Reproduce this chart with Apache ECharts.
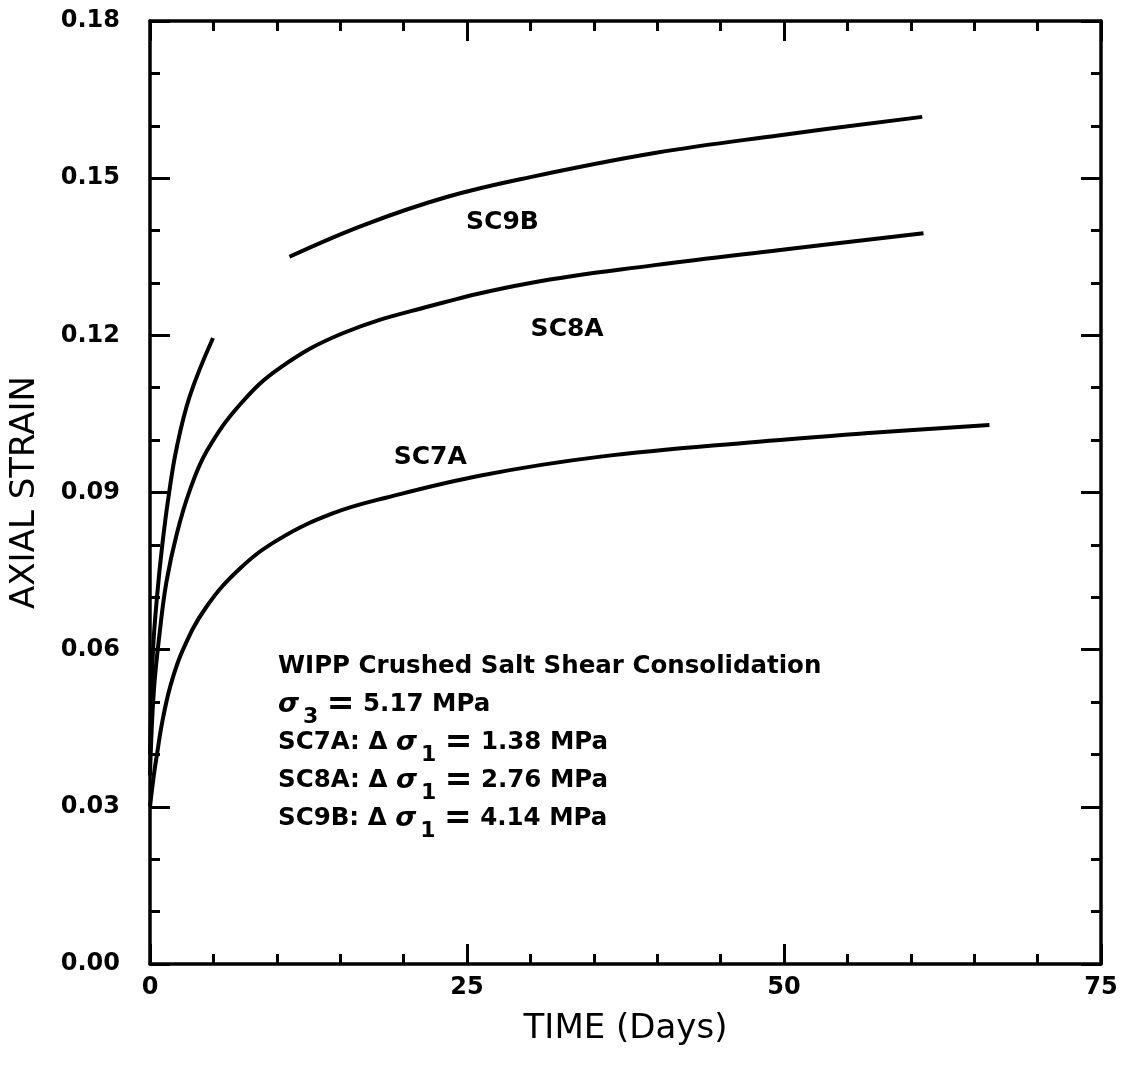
<!DOCTYPE html>
<html>
<head>
<meta charset="utf-8">
<style>
  html, body { margin: 0; padding: 0; background: #fff; }
  #chart { width: 1127px; height: 1068px; }
</style>
<script src="https://cdn.jsdelivr.net/npm/echarts@6/dist/echarts.min.js"></script>
</head>
<body>
<div id="chart"></div>
<script>
// Creep curves: [time (days), axial strain]
const sc7a = [
  [0, 0.030], [0.3, 0.036], [0.55, 0.040], [0.95, 0.046], [1.6, 0.053],
  [2.6, 0.060], [4.4, 0.068], [7.1, 0.0755], [10.25, 0.0812], [14.4, 0.086],
  [18.6, 0.089], [26.2, 0.0933], [35.4, 0.0968], [48, 0.0997], [56.4, 0.1013],
  [66.2, 0.1029]
];
const sc8a = [
  [0, 0.036], [0.3, 0.052], [0.8, 0.064], [1.3, 0.073], [2.1, 0.082],
  [3.15, 0.0905], [4.5, 0.098], [7.1, 0.1068], [10.25, 0.1138], [15.2, 0.1204],
  [21.8, 0.1254], [30, 0.130], [39.8, 0.1334], [49.7, 0.1363], [61, 0.1395]
];
// SC9B was recorded in two pieces with a gap between about day 5 and day 11
const sc9bEarly = [
  [0, 0.040], [0.1, 0.050], [0.25, 0.0605], [0.55, 0.070], [0.95, 0.0796],
  [1.45, 0.089], [2.1, 0.0985], [3.15, 0.1085], [4.97, 0.1195]
];
const sc9bLate = [
  [11.0, 0.135], [16.8, 0.141], [23.4, 0.1464], [30.0, 0.1502],
  [39.8, 0.1548], [49.7, 0.1582], [60.9, 0.1617]
];
// Curve name tags: [time, strain, name]
const curveTags = [
  [27.8, 0.1416, 'SC9B'],
  [32.9, 0.1212, 'SC8A'],
  [22.1, 0.0966, 'SC7A']
];
const xTicks = [0, 25, 50, 75];
const yTicks = [0.00, 0.03, 0.06, 0.09, 0.12, 0.15, 0.18];

const FONT = 'DejaVu Sans';
const INK = '#000';

const chart = echarts.init(document.getElementById('chart'), null, { renderer: 'canvas' });

const axisLineStyle = { show: true, onZero: false, lineStyle: { color: INK, width: 3.5 } };
const majorTick = { show: true, inside: true, length: 20, lineStyle: { color: INK, width: 3 } };
const minorTick = { show: true, splitNumber: 5, length: 10, lineStyle: { color: INK, width: 3 } };

function xAxisCfg(pos, labels) {
  return {
    type: 'value', position: pos, min: xTicks[0], max: xTicks[xTicks.length - 1], interval: 25,
    axisLine: axisLineStyle, axisTick: majorTick,
    minorTick: minorTick, splitLine: { show: false }, minorSplitLine: { show: false },
    axisLabel: labels ? {
      show: true, margin: 12, color: INK, fontFamily: FONT, fontWeight: 'bold', fontSize: 24,
      formatter: v => String(v)
    } : { show: false },
    name: labels ? 'TIME (Days)' : '',
    nameLocation: 'middle', nameGap: 48,
    nameTextStyle: { color: INK, fontFamily: FONT, fontSize: 34 }
  };
}
function yAxisCfg(pos, labels) {
  return {
    type: 'value', position: pos, min: yTicks[0], max: yTicks[yTicks.length - 1], interval: 0.03,
    axisLine: axisLineStyle, axisTick: majorTick,
    minorTick: Object.assign({}, minorTick, { splitNumber: 3 }),
    splitLine: { show: false }, minorSplitLine: { show: false },
    axisLabel: labels ? {
      show: true, margin: 30, color: INK, fontFamily: FONT, fontWeight: 'bold', fontSize: 24,
      formatter: v => v.toFixed(2)
    } : { show: false },
    name: labels ? 'AXIAL STRAIN' : '',
    nameLocation: 'middle', nameGap: 108, nameRotate: 90,
    nameTextStyle: { color: INK, fontFamily: FONT, fontSize: 34 }
  };
}

function curve(name, data) {
  return {
    name: name, type: 'line', data: data, xAxisIndex: 0, yAxisIndex: 0,
    smooth: 0.4, showSymbol: false, symbol: 'none', silent: true,
    lineStyle: { color: INK, width: 4 }
  };
}

// rich styles for the note: italic sigma, lowered subscript, wide equals sign
const richNote = {
  s: { fontFamily: FONT, fontWeight: 'bold', fontStyle: 'italic', fontSize: 27, color: INK },
  b: { fontFamily: FONT, fontWeight: 'bold', fontSize: 22, color: INK, padding: [24, 0, 0, 4] },
  e: { fontFamily: FONT, fontWeight: 'bold', fontSize: 33, color: INK }
};
const noteLines = [
  'WIPP Crushed Salt Shear Consolidation',
  '{s|σ}{b|3} {e|=} 5.17 MPa',
  'SC7A: Δ {s|σ}{b|1} {e|=} 1.38 MPa',
  'SC8A: Δ {s|σ}{b|1} {e|=} 2.76 MPa',
  'SC9B: Δ {s|σ}{b|1} {e|=} 4.14 MPa'
];

chart.setOption({
  animation: false,
  backgroundColor: '#fff',
  grid: { left: 150, right: 26, top: 21, bottom: 104, containLabel: false },
  xAxis: [xAxisCfg('bottom', true), xAxisCfg('top', false)],
  yAxis: [yAxisCfg('left', true), yAxisCfg('right', false)],
  series: [
    curve('SC7A', sc7a),
    curve('SC8A', sc8a),
    curve('SC9B', sc9bEarly),
    curve('SC9B', sc9bLate),
    {
      type: 'scatter', data: curveTags, symbolSize: 0, silent: true,
      itemStyle: { opacity: 1 },
      label: {
        show: true, position: 'inside', formatter: p => p.data[2], opacity: 1,
        color: INK, fontFamily: FONT, fontWeight: 'bold', fontSize: 25
      }
    }
  ],
  graphic: [{
    type: 'text', left: 278, top: 648,
    style: {
      text: noteLines.join('\n'),
      fill: INK, font: 'bold 24.5px "' + FONT + '"', lineHeight: 38,
      rich: richNote
    }
  }]
});
</script>
</body>
</html>
